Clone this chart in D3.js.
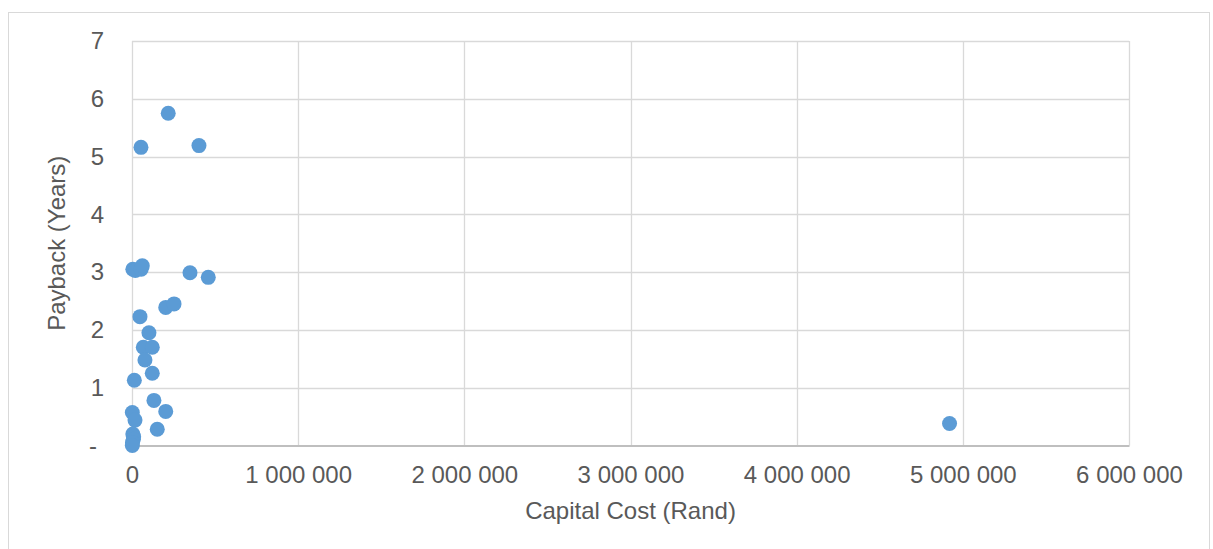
<!DOCTYPE html>
<html>
<head>
<meta charset="utf-8">
<script src="https://cdn.jsdelivr.net/npm/d3@7"></script>
<style>
  html, body { margin: 0; padding: 0; background: #ffffff; }
  svg { display: block; }
  text { font-family: "Liberation Sans", Arial, sans-serif; fill: #595959; }
</style>
</head>
<body>
<svg id="chart" width="1213" height="549"></svg>
<script>
// Capital cost (Rand) of each project and its payback period (years)
const capitalCost = [
  218000, 54000, 403000,
  5000, 20000, 55000, 62000,
  349000, 459000, 203000, 253000,
  48000, 102000, 68000, 122000, 78000, 122000, 14000,
  132000, 203000, 2000, 18000, 152000,
  5000, 10000, 8000, 3000, 2000,
  4920000
];
const payback = [
  5.75, 5.16, 5.19,
  3.05, 3.03, 3.05, 3.11,
  2.99, 2.91, 2.39, 2.45,
  2.23, 1.95, 1.70, 1.70, 1.48, 1.25, 1.13,
  0.78, 0.59, 0.57, 0.44, 0.28,
  0.20, 0.15, 0.11, 0.05, 0.00,
  0.38
];
const xTicks = [0, 1000000, 2000000, 3000000, 4000000, 5000000, 6000000];
const yTicks = [0, 1, 2, 3, 4, 5, 6, 7];
const xTitle = "Capital Cost (Rand)";
const yTitle = "Payback (Years)";

const svg = d3.select("#chart");
const plot = { left: 132, right: 1129, top: 41, bottom: 445.5 };
const fontSize = 24;

// chart frame
svg.append("rect")
  .attr("x", 8.5).attr("y", 12.5)
  .attr("width", 1201).attr("height", 560)
  .attr("fill", "#ffffff").attr("stroke", "#d9d9d9").attr("stroke-width", 1);

const x = d3.scaleLinear().domain([0, 6000000]).range([plot.left, plot.right]);
const y = d3.scaleLinear().domain([0, 7]).range([plot.bottom, plot.top]);

const fmtX = v => d3.format(",")(v).replace(/,/g, " ");
const fmtY = v => v === 0 ? "-" : d3.format("d")(v);

// gridlines
const grid = svg.append("g");
grid.selectAll("line.h").data(yTicks.filter(d => d > 0)).join("line")
  .attr("x1", plot.left).attr("x2", plot.right)
  .attr("y1", d => Math.round(y(d)) + 0.5).attr("y2", d => Math.round(y(d)) + 0.5)
  .attr("stroke", "#d9d9d9").attr("stroke-width", 1.3);
grid.selectAll("line.v").data(xTicks).join("line")
  .attr("y1", plot.top).attr("y2", plot.bottom)
  .attr("x1", d => Math.round(x(d)) + 0.5).attr("x2", d => Math.round(x(d)) + 0.5)
  .attr("stroke", "#d9d9d9").attr("stroke-width", 1.3);

// x axis
const xAxis = svg.append("g")
  .attr("transform", `translate(0,${plot.bottom})`)
  .call(d3.axisBottom(x).tickValues(xTicks).tickFormat(fmtX).tickSize(0).tickPadding(20));
xAxis.select(".domain").attr("stroke", "#bfbfbf").attr("stroke-width", 2);
xAxis.selectAll("text").attr("font-size", fontSize).attr("fill", "#595959")
  .attr("font-family", "Liberation Sans, Arial, sans-serif");

// y axis (zero shown as an accounting dash, padded away from the axis)
const yAxis = svg.append("g")
  .attr("transform", `translate(${plot.left},0)`)
  .call(d3.axisLeft(y).tickValues(yTicks).tickFormat(fmtY).tickSize(0).tickPadding(28));
yAxis.select(".domain").remove();
yAxis.selectAll("text").attr("font-size", fontSize).attr("fill", "#595959")
  .attr("font-family", "Liberation Sans, Arial, sans-serif");
yAxis.selectAll(".tick").filter(d => d === 0).select("text").attr("dx", -7);

// axis titles
svg.append("text")
  .attr("x", (plot.left + plot.right) / 2).attr("y", 519)
  .attr("text-anchor", "middle").attr("font-size", fontSize)
  .text(xTitle);
svg.append("text")
  .attr("transform", `translate(65,${(plot.top + plot.bottom) / 2}) rotate(-90)`)
  .attr("text-anchor", "middle").attr("font-size", fontSize)
  .text(yTitle);

// points
const pts = capitalCost.map((c, i) => ({ c, p: payback[i] }));
svg.append("g").selectAll("circle").data(pts).join("circle")
  .attr("cx", d => x(d.c)).attr("cy", d => y(d.p))
  .attr("r", 7.5).attr("fill", "#5b9bd5");
</script>
</body>
</html>
